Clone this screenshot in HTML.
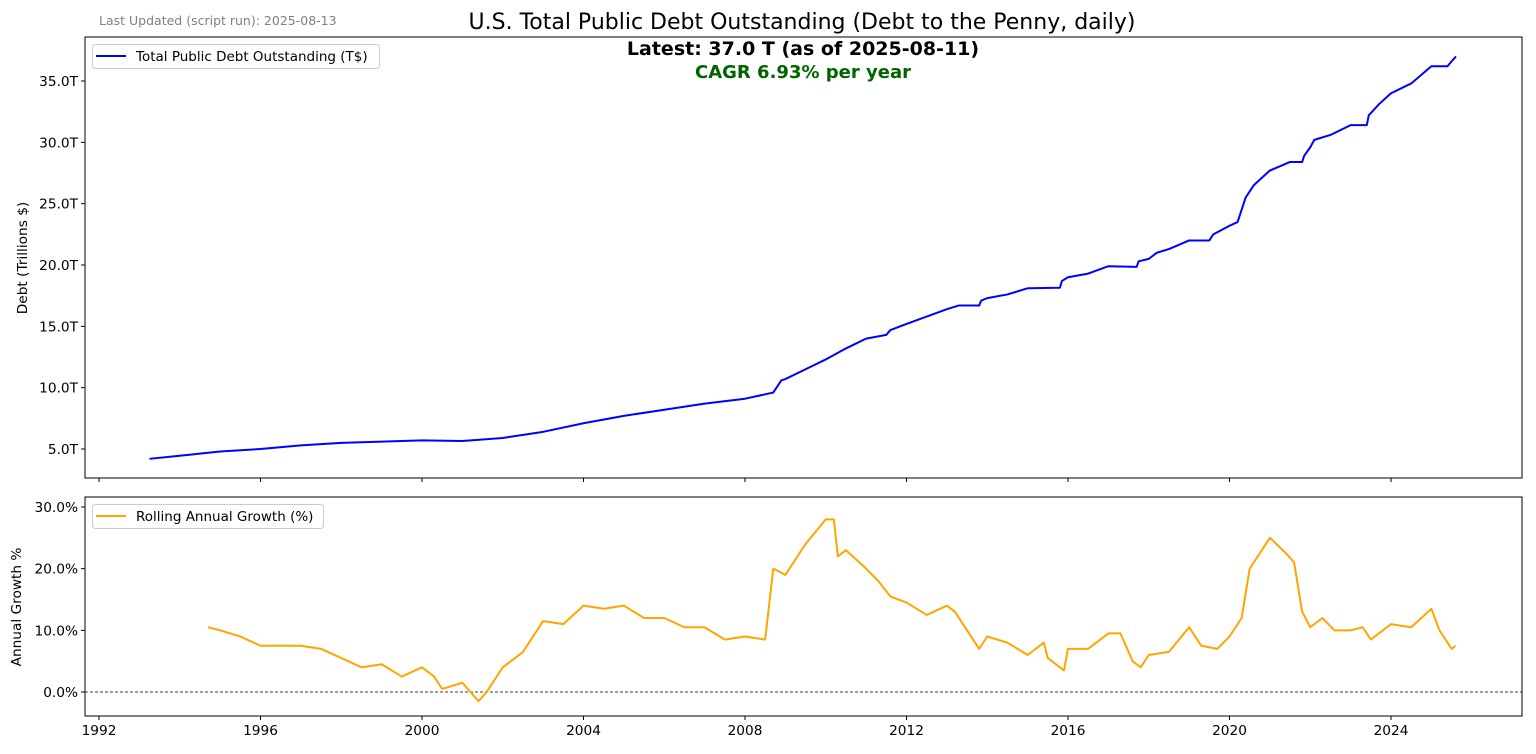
<!DOCTYPE html>
<html><head><meta charset="utf-8"><style>
html,body{margin:0;padding:0;background:#fff;width:1536px;height:754px;overflow:hidden}
svg{display:block;font-family:"DejaVu Sans","Liberation Sans",sans-serif}
</style></head><body>
<svg id="c" width="1536" height="754">
<text x="99" y="25" font-size="12.5" fill="#808080">Last Updated (script run): 2025-08-13</text>
<text x="802" y="29" font-size="22" text-anchor="middle" fill="#000">U.S. Total Public Debt Outstanding (Debt to the Penny, daily)</text>
<text x="803" y="55" font-size="19" font-weight="bold" text-anchor="middle" fill="#000">Latest: 37.0 T (as of 2025-08-11)</text>
<text x="803" y="78" font-size="18" font-weight="bold" text-anchor="middle" fill="#006400">CAGR 6.93% per year</text>
<text transform="translate(27,258) rotate(-90)" font-size="13.7" text-anchor="middle">Debt (Trillions $)</text>
<text transform="translate(21,607) rotate(-90)" font-size="13.7" text-anchor="middle">Annual Growth %</text>
</svg>
<script>
const debtYears=[1993.25,1994,1995,1996,1997,1998,1999,2000,2001,2002,2003,2004,2005,2006,2007,2008,2008.7,2008.9,2009,2009.5,2010,2010.5,2011,2011.5,2011.6,2012,2012.5,2013,2013.3,2013.8,2013.85,2014,2014.5,2015,2015.8,2015.85,2016,2016.5,2017,2017.7,2017.75,2018,2018.2,2018.5,2019,2019.5,2019.6,2020,2020.2,2020.4,2020.6,2021,2021.5,2021.8,2021.85,2022,2022.1,2022.5,2023,2023.4,2023.45,2023.7,2024,2024.5,2025,2025.4,2025.5,2025.61];
const debtValues=[4.2,4.45,4.8,5.0,5.3,5.5,5.6,5.7,5.65,5.9,6.4,7.1,7.7,8.2,8.7,9.1,9.6,10.6,10.7,11.5,12.3,13.2,14.0,14.3,14.7,15.2,15.8,16.4,16.7,16.7,17.1,17.3,17.6,18.1,18.15,18.7,19.0,19.3,19.9,19.85,20.3,20.5,21.0,21.3,22.0,22.0,22.5,23.2,23.5,25.5,26.5,27.7,28.4,28.4,28.9,29.6,30.2,30.6,31.4,31.4,32.2,33.1,34.0,34.8,36.2,36.2,36.6,37.0];
const growthYears=[1994.7,1995,1995.5,1996,1996.5,1997,1997.5,1998,1998.5,1999,1999.5,2000,2000.3,2000.5,2001,2001.4,2001.6,2002,2002.5,2003,2003.5,2004,2004.5,2005,2005.5,2006,2006.5,2007,2007.5,2008,2008.5,2008.7,2009,2009.5,2010,2010.2,2010.3,2010.5,2011,2011.3,2011.6,2012,2012.5,2013,2013.2,2013.8,2014,2014.5,2015,2015.4,2015.5,2015.9,2016,2016.5,2017,2017.3,2017.6,2017.8,2018,2018.5,2019,2019.3,2019.7,2020,2020.3,2020.5,2021,2021.4,2021.6,2021.8,2022,2022.3,2022.6,2023,2023.3,2023.5,2024,2024.5,2025,2025.2,2025.5,2025.6];
const growthValues=[10.5,10,9,7.5,7.5,7.5,7,5.5,4,4.5,2.5,4,2.5,0.5,1.5,-1.5,0,4,6.5,11.5,11,14,13.5,14,12,12,10.5,10.5,8.5,9,8.5,20,19,24,28,28,22,23,20,18,15.5,14.5,12.5,14,13,7,9,8,6,8,5.5,3.5,7,7,9.5,9.5,5,4,6,6.5,10.5,7.5,7,9,12,20,25,22.5,21,13,10.5,12,10,10,10.5,8.5,11,10.5,13.5,10,7,7.5];
const xTicks=[1992,1996,2000,2004,2008,2012,2016,2020,2024];
const debtTicks=[5,10,15,20,25,30,35];
const growthTicks=[0,10,20,30];

const NS="http://www.w3.org/2000/svg";
const svg=document.getElementById('c');
const L=85,R=1522;
const axTop={y0:37,y1:478},axBot={y0:497,y1:716};
const xs=y=>99+(y-1992)*(1391-99)/32;
const yD=v=>449-(v-5)*(449-81)/30;
const yG=v=>692-v*(692-507)/30;
function el(t,a,p){const e=document.createElementNS(NS,t);for(const k in a)e.setAttribute(k,a[k]);(p||svg).appendChild(e);return e;}

const f1=el('rect',{x:L,y:axTop.y0,width:R-L,height:axTop.y1-axTop.y0,fill:'none',stroke:'#000','stroke-width':1});


const f2=el('rect',{x:L,y:axBot.y0,width:R-L,height:axBot.y1-axBot.y0,fill:'none',stroke:'#000','stroke-width':1});



xTicks.forEach(t=>{
  const x=xs(t);
  el('line',{x1:x,x2:x,y1:axTop.y1,y2:axTop.y1+4,stroke:'#000'});
  el('line',{x1:x,x2:x,y1:axBot.y1,y2:axBot.y1+4,stroke:'#000'});
  const tx=el('text',{x:x,y:axBot.y1+19,'font-size':13.7,'text-anchor':'middle'});
  tx.textContent=t;
  
  
});
debtTicks.forEach(t=>{
  const y=yD(t);
  el('line',{x1:L-4,x2:L,y1:y,y2:y,stroke:'#000'});
  const tx=el('text',{x:L-7,y:y+5,'font-size':13.7,'text-anchor':'end'});
  tx.textContent=t.toFixed(1)+'T';
  
  
});
growthTicks.forEach(t=>{
  const y=yG(t);
  el('line',{x1:L-4,x2:L,y1:y,y2:y,stroke:'#000'});
  const tx=el('text',{x:L-7,y:y+5,'font-size':13.7,'text-anchor':'end'});
  tx.textContent=t.toFixed(1)+'%';
  
  
});
const zl=el('line',{x1:L,x2:R,y1:yG(0),y2:yG(0),stroke:'#000','stroke-width':0.8,'stroke-dasharray':'3,2'});



const dp=el('polyline',{points:debtYears.map((y,i)=>xs(y)+','+yD(debtValues[i])).join(' '),fill:'none',stroke:'#0000ff','stroke-width':2,'stroke-linejoin':'round'});


const gp=el('polyline',{points:growthYears.map((y,i)=>xs(y)+','+yG(growthValues[i])).join(' '),fill:'none',stroke:'#ffa500','stroke-width':2,'stroke-linejoin':'round'});



const lg1=el('g',{});


el('rect',{x:92.5,y:44.5,width:287,height:24,rx:3,fill:'#fff',stroke:'#ccc'},lg1);
el('line',{x1:96,x2:126,y1:56,y2:56,stroke:'#0000ff','stroke-width':2},lg1);
const t1=el('text',{x:136,y:61,'font-size':13.5},lg1);t1.textContent='Total Public Debt Outstanding (T$)';
const lg2=el('g',{});


el('rect',{x:92.5,y:504.5,width:231,height:24,rx:3,fill:'#fff',stroke:'#ccc'},lg2);
el('line',{x1:96,x2:126,y1:516,y2:516,stroke:'#ffa500','stroke-width':2},lg2);
const t2=el('text',{x:136,y:521,'font-size':13.5},lg2);t2.textContent='Rolling Annual Growth (%)';
</script>
</body></html>
